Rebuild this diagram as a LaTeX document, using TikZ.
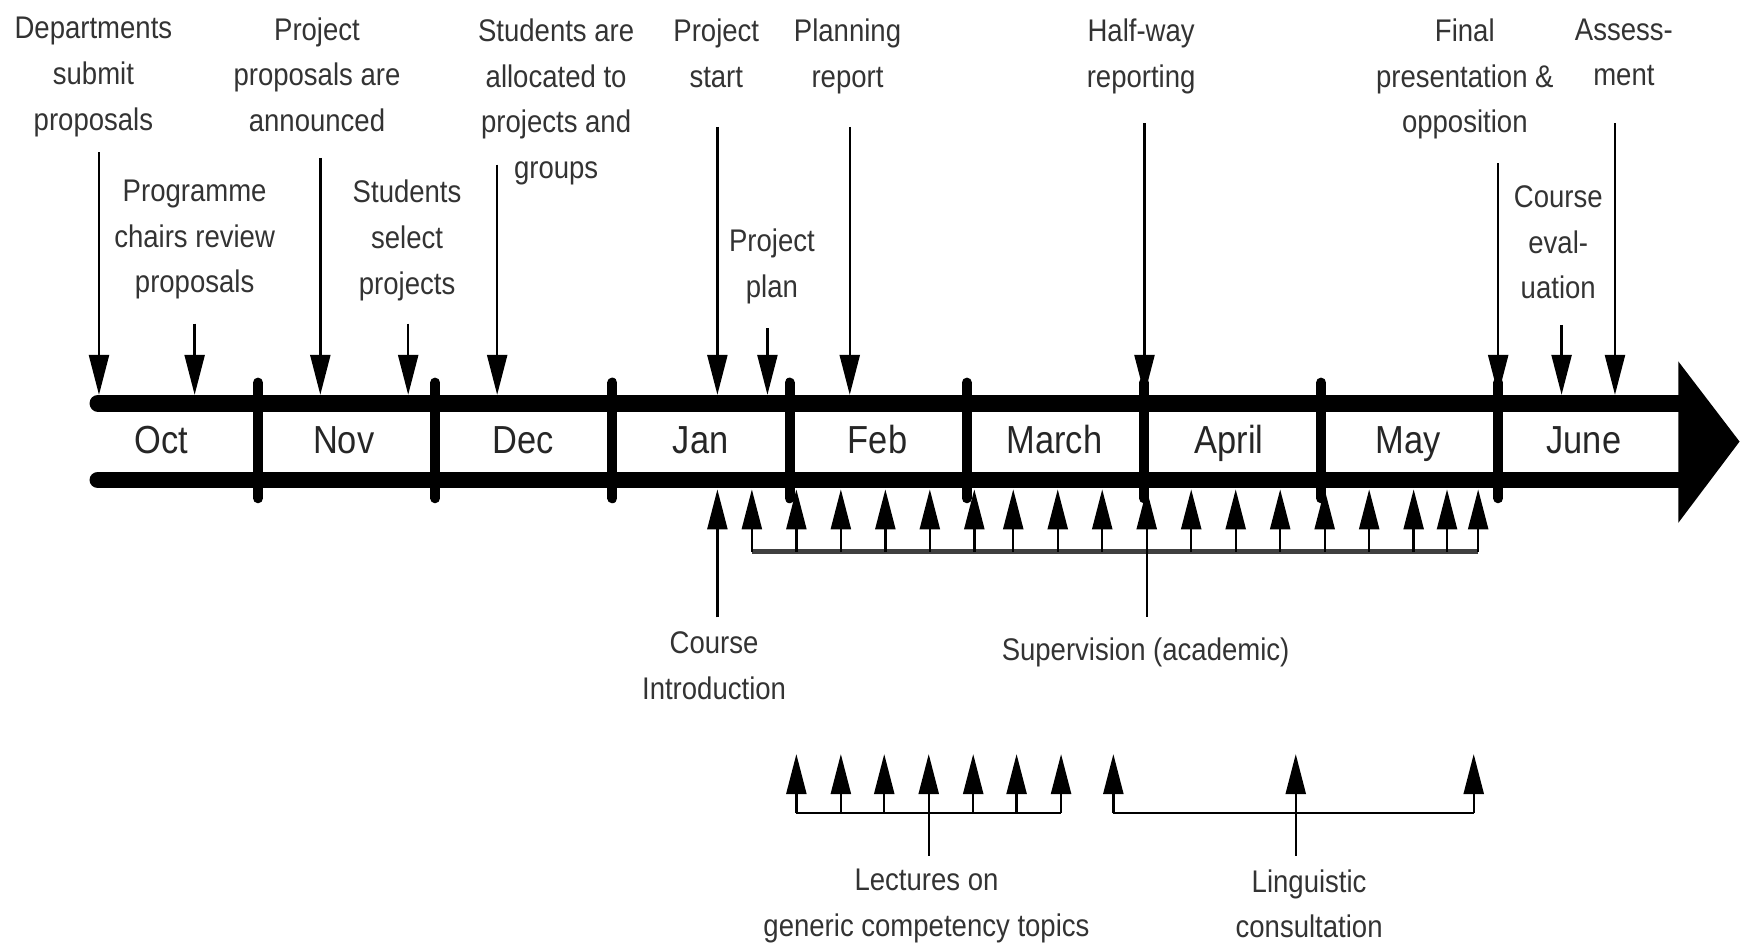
\documentclass[tikz,border=0pt]{standalone}
\usepackage{fontspec}
\setmainfont[FakeStretch=0.88]{Liberation Sans}
\usetikzlibrary{arrows.meta}

\begin{document}
\begin{tikzpicture}[x=0.01cm, y=-0.01cm,
    lbl/.style={align=center, anchor=north, inner sep=0pt, text=black!80, font=\fontsize{8}{11.7}\selectfont},
    mon/.style={anchor=base, inner sep=0pt, text=black!85, font=\fontsize{10}{12}\selectfont},
    arr/.style={line width=0.6pt, -{Triangle[length=0.36cm, width=0.18cm]}},
    band/.style={line width=0.15cm, line cap=round},
    sep/.style={line width=0.09cm, line cap=round},
    bar/.style={line width=0.6pt}]
  \useasboundingbox (0,0) rectangle (1568,849);
  % time axis
  \draw[band] (88,362.5) -- (1514,362.5);
  \draw[band] (88,431.5) -- (1514,431.5);
  \fill (1509,325) -- (1564,397) -- (1509,470) -- cycle;
  \foreach \i in {0,...,7}
    \draw[sep] ({232+159.3*\i},344) -- ({232+159.3*\i},448);
  \foreach \x/\m in {145/Oct,309/Nov,470/Dec,630/Jan,789/Feb,948/March,1105/April,1266/May,1424/June}
    \node[mon] (m-\m) at (\x,408) {\m};
  % events above the axis
  \foreach \n/\lx/\ly/\ax/\ay/\txt in {
      dep/84/15/89/137/{Departments\\submit\\proposals},
      rev/175/161/175/291/{Programme\\chairs review\\proposals},
      ann/285/15/288/142/{Project\\proposals are\\announced},
      sel/366/161/367/291/{Students\\select\\projects},
      alc/500/16/447/148/{Students are\\allocated to\\projects and\\groups},
      sta/644/16/645/114/{Project\\start},
      pln/694/205/690/295/{Project\\plan},
      rep/762/16/764/114/{Planning\\report},
      hal/1026/16/1029/111/{Half-way\\reporting},
      fin/1317/16/1347/147/{Final\\presentation \&\\opposition},
      evl/1401/166/1404/292/{Course\\eval-\\uation},
      ass/1460/16/1452/111/{Assess-\\ment}} {
    \node[lbl] (\n) at (\lx,\ly) {\txt};
    \coordinate (\n-a) at (\ax,\ay);
    \coordinate (\n-b) at (\ax,355);
    \draw[arr] (\n-a) -- (\n-b);
  }
  % course introduction
  \node[lbl] (intro) at (642,567) {Course\\Introduction};
  \coordinate (intro-a) at (645,555);
  \coordinate (intro-b) at (645,440);
  \draw[arr] (intro-a) -- (intro-b);
  % supervision
  \node[lbl] (sup) at (1030,573) {Supervision (academic)};
  \coordinate (sup-l) at (676,496);
  \coordinate (sup-r) at (1329,496);
  \draw[line width=1.2pt, black!75] (sup-l) -- (sup-r);
  \foreach \x [count=\k] in {676,716,756,796,836,876,911,951,991,1031,1071,1111,1151,1191,1231,1271,1301,1329} {
    \coordinate (sv\k-a) at (\x,496);
    \coordinate (sv\k-b) at (\x,440);
    \draw[arr] (sv\k-a) -- (sv\k-b);
  }
  \coordinate (sup-m) at (1031,496);
  \coordinate (sup-s) at (1031,555);
  \draw[bar] (sup-m) -- (sup-s);
  % lectures
  \node[lbl] (lec) at (833,781) {Lectures on\\generic competency topics};
  \coordinate (lec-l) at (716,731);
  \coordinate (lec-r) at (954,731);
  \draw[bar] (lec-l) -- (lec-r);
  \foreach \x [count=\k] in {716,756,795,835,875,914,954} {
    \coordinate (lc\k-a) at (\x,731);
    \coordinate (lc\k-b) at (\x,678);
    \draw[arr] (lc\k-a) -- (lc\k-b);
  }
  \coordinate (lec-m) at (835,731);
  \coordinate (lec-s) at (835,770);
  \draw[bar] (lec-m) -- (lec-s);
  % linguistic consultation
  \node[lbl] (lin) at (1177,781) {Linguistic\\consultation};
  \coordinate (lin-l) at (1001,731);
  \coordinate (lin-r) at (1325,731);
  \draw[bar] (lin-l) -- (lin-r);
  \foreach \x [count=\k] in {1001,1165,1325} {
    \coordinate (ln\k-a) at (\x,731);
    \coordinate (ln\k-b) at (\x,678);
    \draw[arr] (ln\k-a) -- (ln\k-b);
  }
  \coordinate (lin-m) at (1165,731);
  \coordinate (lin-s) at (1165,770);
  \draw[bar] (lin-m) -- (lin-s);
\end{tikzpicture}
\end{document}
